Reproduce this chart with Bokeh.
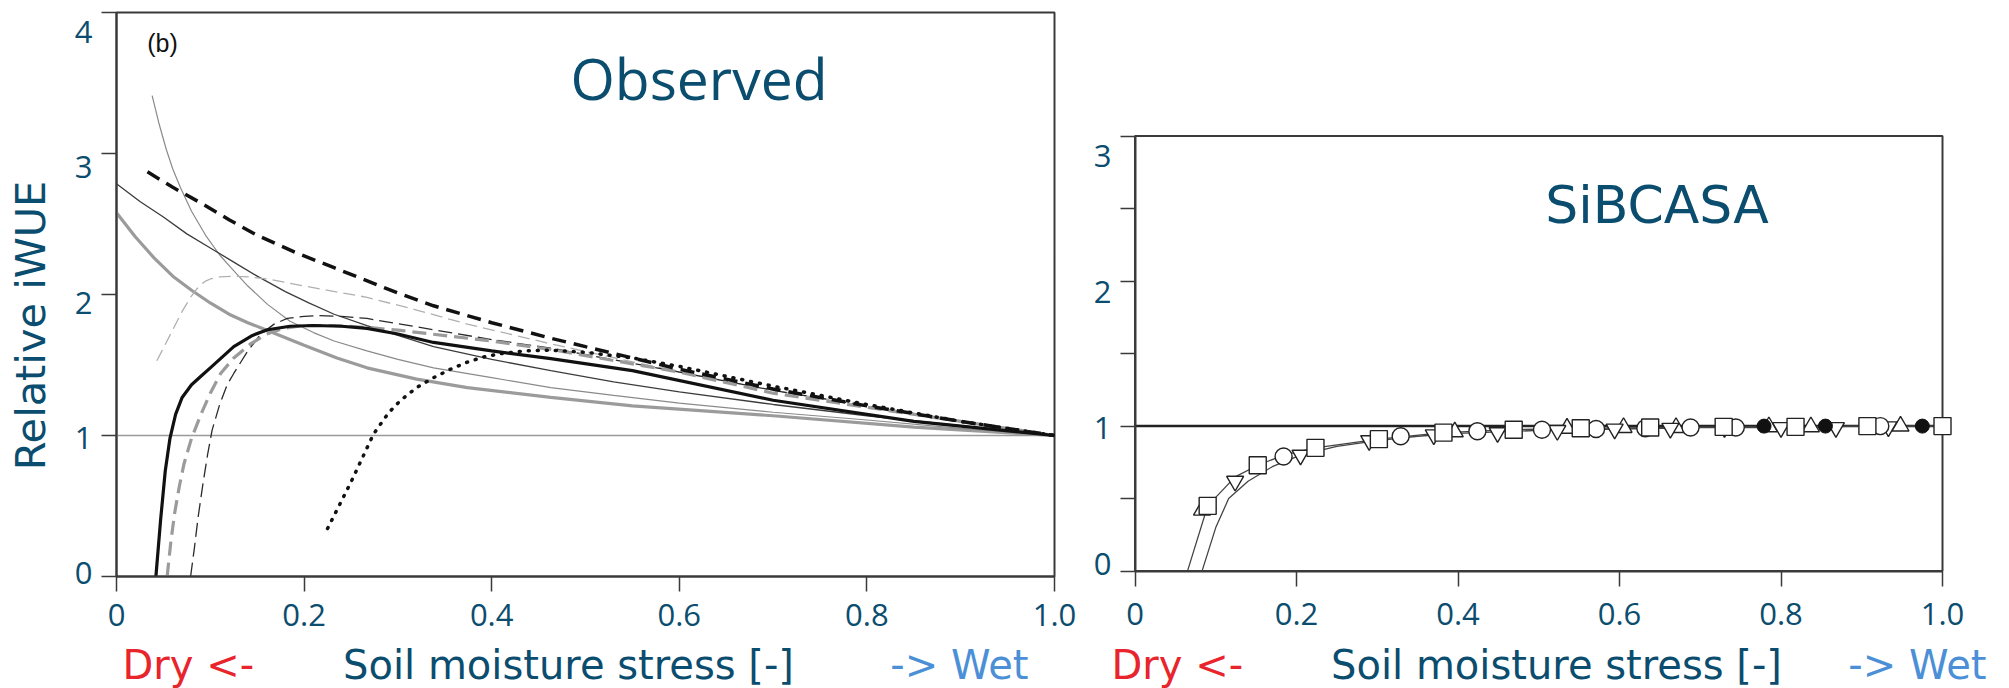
import math
from bokeh.plotting import figure
from bokeh.models import Range1d, FixedTicker, Label
from bokeh.layouts import row
from bokeh.embed import file_html
from bokeh.resources import INLINE

TEAL = "#0b4d6e"
RED = "#e8242c"
BLUE = "#4b8fd6"
AX = "#3a3a3a"

# ---------------- data ----------------
x_ticks = [0, 0.2, 0.4, 0.6, 0.8, 1.0]
x_tick_labels = ["0", "0.2", "0.4", "0.6", "0.8", "1.0"]
obs_y_ticks = [0, 1, 2, 3, 4]
sib_y_ticks = [0, 0.5, 1, 1.5, 2, 2.5, 3]
sib_y_label_ticks = [0, 1, 2, 3]

x_label_parts = ["Dry <-", "Soil moisture stress [-]", "-> Wet"]
obs_title = "Observed"
sib_title = "SiBCASA"
y_title = "Relative iWUE"
panel_tag = "(b)"

# reference line (relative iWUE = 1)
ref_x = [0.0, 1.0]
ref_y = [1.0, 1.0]

# Observed panel curves
a_x = [0.033, 0.06, 0.095, 0.12, 0.15, 0.19, 0.232, 0.27, 0.3, 0.338, 0.4, 0.463, 0.5, 0.55, 0.6,
       0.65, 0.7, 0.75, 0.8, 0.85, 0.9, 0.95, 1.0]
a_y = [2.87, 2.76, 2.63, 2.53, 2.42, 2.30, 2.19, 2.09, 2.01, 1.92, 1.80, 1.69, 1.63, 1.55, 1.47,
       1.40, 1.33, 1.27, 1.21, 1.155, 1.10, 1.05, 1.0]

b_x = [0.038, 0.045, 0.053, 0.06, 0.068, 0.08, 0.095, 0.11, 0.122, 0.14, 0.161, 0.185, 0.21, 0.232,
       0.267, 0.3, 0.338, 0.4, 0.463, 0.53, 0.6, 0.7, 0.8, 0.9, 1.0]
b_y = [3.41, 3.22, 3.03, 2.89, 2.76, 2.59, 2.42, 2.28, 2.19, 2.06, 1.93, 1.81, 1.73, 1.67,
       1.60, 1.54, 1.48, 1.41, 1.34, 1.285, 1.23, 1.165, 1.11, 1.05, 1.0]

c_x = [0.0, 0.025, 0.05, 0.075, 0.1, 0.125, 0.15, 0.18, 0.205, 0.232, 0.267, 0.3, 0.338, 0.4,
       0.463, 0.53, 0.6, 0.7, 0.8, 0.9, 1.0]
c_y = [2.785, 2.66, 2.55, 2.43, 2.33, 2.23, 2.13, 2.02, 1.94, 1.86, 1.78, 1.71, 1.63, 1.54,
       1.46, 1.38, 1.31, 1.22, 1.14, 1.07, 1.0]

d_x = [0.0, 0.02, 0.04, 0.06, 0.08, 0.1, 0.12, 0.14, 0.161, 0.2, 0.235, 0.267, 0.32, 0.374,
       0.463, 0.55, 0.7, 0.85, 1.0]
d_y = [2.58, 2.41, 2.26, 2.13, 2.03, 1.94, 1.86, 1.80, 1.745, 1.64, 1.55, 1.48, 1.40, 1.34,
       1.27, 1.21, 1.14, 1.06, 1.0]

e_x = [0.043, 0.05, 0.06, 0.07, 0.079, 0.085, 0.09, 0.095, 0.1, 0.11, 0.125, 0.14, 0.161, 0.2,
       0.267, 0.32, 0.374, 0.463, 0.6, 0.7, 0.8, 0.9, 1.0]
e_y = [1.53, 1.62, 1.75, 1.88, 1.98, 2.035, 2.07, 2.095, 2.11, 2.125, 2.13, 2.125, 2.11, 2.06,
       1.98, 1.89, 1.79, 1.65, 1.45, 1.32, 1.21, 1.10, 1.0]

f_x = [0.042, 0.047, 0.052, 0.057, 0.063, 0.07, 0.08, 0.09, 0.1, 0.125, 0.145, 0.161, 0.185,
       0.21, 0.24, 0.267, 0.3, 0.338, 0.4, 0.463, 0.55, 0.7, 0.85, 1.0]
f_y = [0.0, 0.4, 0.75, 0.98, 1.15, 1.27, 1.36, 1.42, 1.48, 1.63, 1.71, 1.75, 1.775,
       1.78, 1.775, 1.76, 1.72, 1.66, 1.60, 1.545, 1.46, 1.25, 1.10, 1.0]

g_x = [0.054, 0.058, 0.062, 0.067, 0.072, 0.08, 0.09, 0.1, 0.111, 0.125, 0.143, 0.16, 0.178,
       0.2, 0.232, 0.27, 0.303, 0.4, 0.463, 0.6, 0.7, 0.8, 0.9, 1.0]
g_y = [0.0, 0.25, 0.45, 0.64, 0.80, 0.98, 1.15, 1.30, 1.44, 1.55, 1.65, 1.72, 1.76,
       1.78, 1.78, 1.765, 1.745, 1.67, 1.61, 1.45, 1.30, 1.20, 1.10, 1.0]

h_x = [0.079, 0.083, 0.087, 0.092, 0.097, 0.102, 0.11, 0.118, 0.125, 0.14, 0.154, 0.168, 0.182,
       0.2, 0.214, 0.24, 0.267, 0.338, 0.4, 0.463, 0.6, 0.7, 0.8, 0.9, 1.0]
h_y = [0.0, 0.2, 0.42, 0.65, 0.86, 1.04, 1.22, 1.36, 1.44, 1.60, 1.72, 1.79, 1.83,
       1.845, 1.85, 1.845, 1.83, 1.75, 1.68, 1.62, 1.45, 1.32, 1.21, 1.10, 1.0]

i_x = [0.225, 0.25, 0.274, 0.29, 0.303, 0.32, 0.338, 0.356, 0.374, 0.39, 0.409, 0.435, 0.463,
       0.5, 0.55, 0.6, 0.7, 0.8, 0.9, 1.0]
i_y = [0.34, 0.67, 1.01, 1.16, 1.25, 1.34, 1.41, 1.47, 1.52, 1.555, 1.58, 1.60, 1.605,
       1.59, 1.55, 1.49, 1.35, 1.22, 1.10, 1.0]

# SiBCASA panel
l1_x = [0.065, 0.090, 0.124, 0.152, 0.184, 0.2235, 0.302, 0.382, 0.469, 0.552, 0.638, 0.729, 0.818, 0.907, 1.0]
l1_y = [0.0, 0.45, 0.65, 0.73, 0.80, 0.85, 0.91, 0.955, 0.975, 0.985, 0.99, 0.995, 0.995, 1.0, 1.0]
l2_x = [0.083, 0.100, 0.116, 0.14, 0.17, 0.205, 0.25, 0.30, 0.35, 0.40, 0.5, 0.6, 0.7, 0.8, 0.9, 1.0]
l2_y = [0.0, 0.30, 0.50, 0.62, 0.72, 0.80, 0.86, 0.90, 0.93, 0.95, 0.97, 0.98, 0.99, 0.99, 1.0, 1.0]

sq_x = [0.090, 0.152, 0.2235, 0.302, 0.382, 0.469, 0.552, 0.638, 0.729, 0.818, 0.907, 1.0]
sq_y = [0.45, 0.73, 0.85, 0.91, 0.955, 0.975, 0.985, 0.99, 0.995, 0.995, 1.0, 1.0]
it_x = [0.124, 0.205, 0.29, 0.37, 0.449, 0.523, 0.594, 0.663, 0.73, 0.80, 0.868, 0.933]
it_y = [0.62, 0.80, 0.90, 0.94, 0.955, 0.97, 0.98, 0.985, 0.99, 0.99, 0.99, 0.995]
ci_x = [0.184, 0.329, 0.424, 0.504, 0.571, 0.632, 0.688, 0.744, 0.923]
ci_y = [0.79, 0.93, 0.965, 0.975, 0.98, 0.985, 0.99, 0.99, 1.0]
tr_x = [0.083, 0.396, 0.535, 0.605, 0.67, 0.785, 0.837, 0.948]
tr_y = [0.42, 0.96, 0.985, 0.99, 0.99, 0.995, 0.995, 1.0]
fc_x = [0.779, 0.855, 0.975]
fc_y = [1.0, 1.0, 1.0]

FONT = "Open Sans"
H = 688


def style_axes(p, xt, yt, ytop, xstand):
    for ax in (p.xaxis[0], p.yaxis[0]):
        ax.axis_line_color = AX
        ax.axis_line_width = 2
        ax.major_tick_line_color = AX
        ax.major_tick_line_width = 1.5
        ax.major_tick_in = 0
        ax.major_tick_out = 15
        ax.minor_tick_line_color = None
        ax.major_label_text_color = TEAL
        ax.major_label_text_font = FONT
        ax.major_label_text_font_size = "31px"
    p.xaxis.ticker = FixedTicker(ticks=xt)
    p.xaxis.major_label_overrides = {t: l for t, l in zip(x_ticks, x_tick_labels)}
    p.xaxis.major_label_standoff = xstand
    p.xaxis.fixed_location = 0
    p.xaxis.bounds = (0, 1)
    p.yaxis.ticker = FixedTicker(ticks=yt)
    p.yaxis.major_label_text_font_size = "0px"
    p.yaxis.major_label_text_color = None
    p.yaxis.fixed_location = 0
    p.yaxis.bounds = (0, ytop)
    p.xgrid.visible = False
    p.ygrid.visible = False
    p.outline_line_color = None
    p.background_fill_color = "white"
    p.border_fill_color = "white"
    # panel box
    p.quad(left=[0], right=[1], bottom=[0], top=[ytop], fill_color=None,
           line_color=AX, line_width=2)


def add_text(p, x, y, text, color, size, font=FONT, align="left", baseline="middle", angle=0.0):
    p.add_layout(Label(x=x, y=y, text=text, text_color=color, text_font=font,
                       text_font_size=size, text_align=align, text_baseline=baseline,
                       angle=angle))


# ---------------- left panel: Observed ----------------
W1 = 1080
p1 = figure(width=W1, height=H, title=None,
            x_range=Range1d(-116 / 938, (W1 - 116) / 938),
            y_range=Range1d(-(H - 576) / 141, 576 / 141),
            output_backend="svg", toolbar_location=None,
            min_border_left=0, min_border_right=0, min_border_top=0, min_border_bottom=0)
style_axes(p1, x_ticks, obs_y_ticks, 4, 12)

p1.line(ref_x, ref_y, line_color="#9a9a9a", line_width=1.5)
p1.line(d_x, d_y, line_color="#9b9b9b", line_width=3.2)
p1.line(b_x, b_y, line_color="#8a8a8a", line_width=1.2)
p1.line(c_x, c_y, line_color="#3c3c3c", line_width=1.3)
p1.line(e_x, e_y, line_color="#b0b0b0", line_width=1.3, line_dash="12 6")
p1.line(h_x, h_y, line_color="#2a2a2a", line_width=1.3, line_dash="14 6")
p1.line(g_x, g_y, line_color="#9b9b9b", line_width=3.2, line_dash="14 7")
p1.line(f_x, f_y, line_color="#111111", line_width=3.2)
p1.line(i_x, i_y, line_color="#111111", line_width=3.5, line_dash="1 8", line_cap="round")
p1.line(a_x, a_y, line_color="#111111", line_width=3.5, line_dash="14 8")

for v in obs_y_ticks:
    add_text(p1, -0.0256, 0.0213 + 0.9603 * v, str(v), TEAL, "31px", align="right")

add_text(p1, -0.0912, 1.780, y_title, TEAL, "41.5px", font="DejaVu Sans", align="center",
         angle=math.pi / 2)
add_text(p1, 0.484, 3.532, obs_title, TEAL, "57px")
add_text(p1, 0.0327, 3.784, panel_tag, "#111111", "25px", font="Liberation Sans")
yb1 = (576 - 664.2) / 141
add_text(p1, 0.0064, yb1, x_label_parts[0], RED, "40px", font="DejaVu Sans")
add_text(p1, 0.4819, yb1, x_label_parts[1], TEAL, "40px", font="DejaVu Sans", align="center")
add_text(p1, 0.9723, yb1, x_label_parts[2], BLUE, "40px", font="DejaVu Sans", align="right")

# ---------------- right panel: SiBCASA ----------------
W2 = 925
X0 = 1134.5 - W1
p2 = figure(width=W2, height=H, title=None,
            x_range=Range1d(-X0 / 807.5, (W2 - X0) / 807.5),
            y_range=Range1d(-(H - 570.6) / 145, 570.6 / 145),
            output_backend="svg", toolbar_location=None,
            min_border_left=0, min_border_right=0, min_border_top=0, min_border_bottom=0)
style_axes(p2, x_ticks, sib_y_ticks, 3, 17)

p2.line(ref_x, ref_y, line_color="#222222", line_width=2.5)
p2.line(l1_x, l1_y, line_color="#444444", line_width=1.3)
p2.line(l2_x, l2_y, line_color="#444444", line_width=1.3)
mk = dict(size=17, fill_color="white", line_color="#222222", line_width=1.4)
p2.scatter(tr_x, tr_y, marker="triangle", **mk)
p2.scatter(it_x, it_y, marker="inverted_triangle", **mk)
p2.scatter(ci_x, ci_y, marker="circle", **mk)
p2.scatter(sq_x, sq_y, marker="square", **mk)
p2.scatter(fc_x, fc_y, marker="circle", size=14, fill_color="#111111", line_color="#111111")

for v in sib_y_label_ticks:
    add_text(p2, -0.0291, 0.0524 + 0.9359 * v, str(v), TEAL, "31px", align="right")

add_text(p2, 0.508, 2.528, sib_title, TEAL, "52px", font="DejaVu Sans")
yb2 = (570.6 - 664.2) / 145
add_text(p2, -0.0291, yb2, x_label_parts[0], RED, "40px", font="DejaVu Sans")
add_text(p2, 0.522, yb2, x_label_parts[1], TEAL, "40px", font="DejaVu Sans", align="center")
add_text(p2, 1.0545, yb2, x_label_parts[2], BLUE, "40px", font="DejaVu Sans", align="right")

layout = row(p1, p2)
open("out.html", "w").write(file_html(layout, INLINE))
